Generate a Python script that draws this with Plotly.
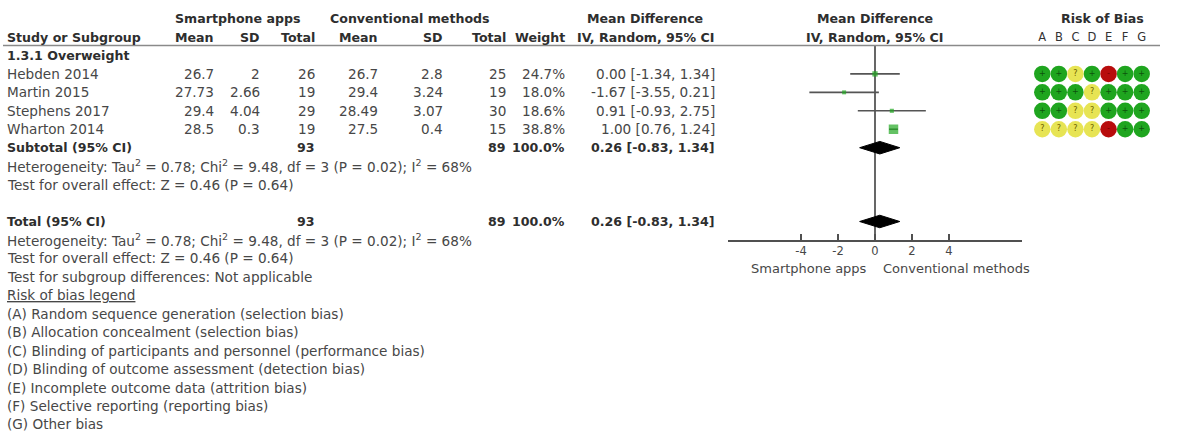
import plotly.graph_objects as go

# ---------------- data ----------------
studies = ["Hebden 2014", "Martin 2015", "Stephens 2017", "Wharton 2014"]
app_mean = [26.7, 27.73, 29.4, 28.5]
app_sd = [2, 2.66, 4.04, 0.3]
app_n = [26, 19, 29, 19]
conv_mean = [26.7, 29.4, 28.49, 27.5]
conv_sd = [2.8, 3.24, 3.07, 0.4]
conv_n = [25, 19, 30, 15]
weight = [24.7, 18.0, 18.6, 38.8]
md = [0.00, -1.67, 0.91, 1.00]
md_lo = [-1.34, -3.55, -0.93, 0.76]
md_hi = [1.34, 0.21, 2.75, 1.24]

subgroup_name = "1.3.1 Overweight"
total_app = 93
total_conv = 89
pooled_md = 0.26
pooled_lo = -0.83
pooled_hi = 1.34
heterogeneity = "Heterogeneity: Tau<sup>2</sup> = 0.78; Chi<sup>2</sup> = 9.48, df = 3 (P = 0.02); I<sup>2</sup> = 68%"
overall = "Test for overall effect: Z = 0.46 (P = 0.64)"
subgroup_test = "Test for subgroup differences: Not applicable"

rob_domains = ["A", "B", "C", "D", "E", "F", "G"]
rob = [
    ["+", "+", "?", "+", "-", "+", "+"],
    ["+", "+", "+", "?", "+", "+", "+"],
    ["+", "+", "?", "?", "+", "+", "+"],
    ["?", "?", "?", "?", "-", "+", "+"],
]
rob_legend = [
    "(A) Random sequence generation (selection bias)",
    "(B) Allocation concealment (selection bias)",
    "(C) Blinding of participants and personnel (performance bias)",
    "(D) Blinding of outcome assessment (detection bias)",
    "(E) Incomplete outcome data (attrition bias)",
    "(F) Selective reporting (reporting bias)",
    "(G) Other bias",
]
tick_vals = [-4, -2, 0, 2, 4]
tick_text = ["-4", "-2", "0", "2", "4"]
favours_left = "Smartphone apps"
favours_right = "Conventional methods"

# ---------------- layout helpers ----------------
W, H = 1179, 434
ROW0 = 37.0      # pixel y of the "Study or Subgroup" row
ROWH = 18.45     # row spacing in pixels
FONT = "DejaVu Sans"
FS = 13.6        # regular text
FB = 12.6        # bold text
TXT = "#474747"
TXB = "#2e2e2e"
LEFT = 6


def px(x):
    return x / W


def row_of_px(y):
    return (y - ROW0) / ROWH


fig = go.Figure()
ann = []


def text(x, row, s, anchor="right", bold=False, size=None, color=None):
    if bold:
        s = "<b>" + s + "</b>"
    if size is None:
        size = FB if bold else FS
    if color is None:
        color = TXB if bold else TXT
    ann.append(dict(x=px(x), y=row, xref="paper", yref="y", text=s,
                    xanchor=anchor, yanchor="middle", showarrow=False,
                    borderpad=0,
                    font=dict(family=FONT, size=size, color=color)))


def fmt_ci(m, l, h):
    return "%.2f [%.2f, %.2f]" % (m, l, h)


# column right edges (px)
C_SM, C_SSD, C_ST = 215, 261, 316
C_CM, C_CSD, C_CT = 379, 444, 507
C_W, C_CI = 566, 716

# header rows
text(237, -1, "Smartphone apps", anchor="center", bold=True)
text(410, -1, "Conventional methods", anchor="center", bold=True)
text(645, -1, "Mean Difference", anchor="center", bold=True)
text(875, -1, "Mean Difference", anchor="center", bold=True)
text(1102, -1, "Risk of Bias", anchor="center", bold=True)

text(LEFT, 0, "Study or Subgroup", anchor="left", bold=True)
for x, s in [(C_SM, "Mean"), (C_SSD, "SD"), (C_ST, "Total"), (C_CM, "Mean"),
             (C_CSD, "SD"), (C_CT, "Total"), (C_W, "Weight"), (C_CI, "IV, Random, 95% CI")]:
    text(x, 0, s, bold=True)
text(875, 0, "IV, Random, 95% CI", anchor="center", bold=True)

text(LEFT, 1, subgroup_name, anchor="left", bold=True)

study_rows = [2 + i for i in range(len(studies))]
for i, r in enumerate(study_rows):
    text(LEFT, r, studies[i], anchor="left")
    text(C_SM, r, str(app_mean[i]))
    text(C_SSD, r, str(app_sd[i]))
    text(C_ST, r, str(app_n[i]))
    text(C_CM, r, str(conv_mean[i]))
    text(C_CSD, r, str(conv_sd[i]))
    text(C_CT, r, str(conv_n[i]))
    text(C_W, r, "%.1f%%" % weight[i])
    text(C_CI, r, fmt_ci(md[i], md_lo[i], md_hi[i]))

sub_row = 6
tot_row = 10
for r, label in [(sub_row, "Subtotal (95% CI)"), (tot_row, "Total (95% CI)")]:
    text(LEFT, r, label, anchor="left", bold=True)
    text(C_ST, r, str(total_app), bold=True)
    text(C_CT, r, str(total_conv), bold=True)
    text(C_W, r, "100.0%", bold=True)
    text(C_CI, r, fmt_ci(pooled_md, pooled_lo, pooled_hi), bold=True)
    text(LEFT, r + 1, heterogeneity, anchor="left")
    text(LEFT, r + 2, overall, anchor="left")
text(LEFT, 13, subgroup_test, anchor="left")
text(LEFT, 14, "<u>Risk of bias legend</u>", anchor="left")
for k, s in enumerate(rob_legend):
    text(LEFT, 15 + k, s, anchor="left")

# ---------------- forest plot ----------------
axis_row = row_of_px(240)
for i, r in enumerate(study_rows):
    fig.add_trace(go.Scatter(x=[md_lo[i], md_hi[i]], y=[r, r], mode="lines",
                             line=dict(color="#555555", width=1.6),
                             xaxis="x", yaxis="y", hoverinfo="skip"))
sizes = [2.5 + (w / max(weight)) ** 2 * 7 for w in weight]
fig.add_trace(go.Scatter(x=md, y=study_rows, mode="markers",
                         marker=dict(symbol="square", size=sizes, color="#22a822",
                                     line=dict(width=0)),
                         xaxis="x", yaxis="y", hoverinfo="skip"))
dh = 0.34
for r in [sub_row, tot_row]:
    fig.add_trace(go.Scatter(x=[pooled_lo, pooled_md, pooled_hi, pooled_md, pooled_lo],
                             y=[r, r - dh, r, r + dh, r], mode="lines", fill="toself",
                             fillcolor="black", line=dict(color="black", width=1),
                             xaxis="x", yaxis="y", hoverinfo="skip"))

shapes = [
    dict(type="line", xref="x", yref="y", x0=0, x1=0, y0=row_of_px(46), y1=axis_row,
         line=dict(color="#404040", width=1.6), layer="below"),
    dict(type="line", xref="paper", yref="y", x0=px(3), x1=px(1160),
         y0=row_of_px(45.5), y1=row_of_px(45.5), line=dict(color="#8a8a8a", width=1.6)),
]

ann.append(dict(x=-0.35, y=row_of_px(268), xref="x", yref="y", text=favours_left,
                xanchor="right", yanchor="middle", showarrow=False,
                font=dict(family=FONT, size=13, color=TXT)))
ann.append(dict(x=0.3, y=row_of_px(268), xref="x", yref="y", text=favours_right,
                xanchor="left", yanchor="middle", showarrow=False,
                font=dict(family=FONT, size=13, color=TXT)))

# ---------------- risk of bias ----------------
col_map = {"+": "#1fa51f", "?": "#e7e454", "-": "#b80c0c"}
sym_col = {"+": "#0d540d", "?": "#6b6000", "-": "#7a0000"}
rx, ry, rc, rt, rtc = [], [], [], [], []
for i, r in enumerate(study_rows):
    for j, d in enumerate(rob_domains):
        rx.append(d)
        ry.append(r)
        rc.append(col_map[rob[i][j]])
        rt.append(rob[i][j])
        rtc.append(sym_col[rob[i][j]])
fig.add_trace(go.Scatter(x=rx, y=ry, mode="markers+text", text=rt,
                         textposition="middle center",
                         textfont=dict(family=FONT, size=8, color=rtc),
                         marker=dict(size=16.5, color=rc, line=dict(width=0)),
                         xaxis="x2", yaxis="y", hoverinfo="skip"))

fig.update_layout(
    width=W, height=H,
    margin=dict(l=0, r=0, t=0, b=0, pad=0),
    paper_bgcolor="white", plot_bgcolor="rgba(0,0,0,0)",
    showlegend=False, hovermode=False,
    annotations=ann, shapes=shapes,
    xaxis=dict(domain=[px(728), px(1022)], range=[-7.95, 7.95],
               anchor="free", position=1 - 240 / H, automargin=False,
               showline=True, linecolor="#505050", linewidth=1.5,
               ticks="inside", ticklen=6, tickwidth=1.2, tickcolor="#505050",
               tickvals=tick_vals, ticktext=tick_text,
               tickfont=dict(family=FONT, size=11.5, color=TXT),
               showgrid=False, zeroline=False, fixedrange=True),
    xaxis2=dict(type="category", categoryarray=rob_domains, categoryorder="array",
                domain=[px(1034), px(1150)], range=[-0.5, 6.5],
                anchor="free", position=1 - 45 / H, side="top", automargin=False,
                showline=False, ticks="", showgrid=False, zeroline=False,
                tickfont=dict(family=FONT, size=11.5, color="#333333"),
                ticklabelstandoff=2, fixedrange=True),
    yaxis=dict(domain=[0, 1], range=[(H - ROW0) / ROWH, -ROW0 / ROWH],
               visible=False, fixedrange=True, automargin=False),
)

fig.write_html("out.html", config={"displayModeBar": False, "staticPlot": True},
               post_script="document.body.style.margin='0px';")
